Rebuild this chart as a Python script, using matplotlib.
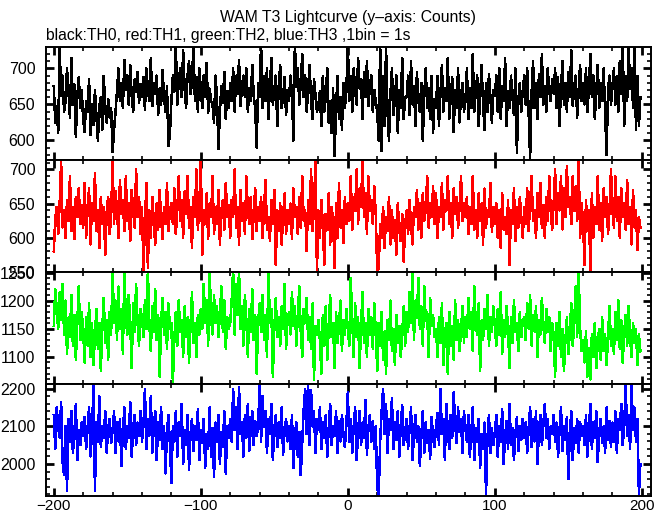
import numpy as np
import matplotlib.pyplot as plt
from matplotlib.ticker import MultipleLocator

# 1 s bins, t = -200 ... 199
t_first = -200
n_bins = 400

th0 = [
    675, 625, 648, 610, 730, 662, 690, 640, 655, 700, 668, 632, 715, 650, 678, 605, 660, 688, 645, 670,
    628, 612, 655, 640, 685, 608, 650, 622, 670, 635, 600, 648, 660, 615, 690, 642, 625, 658, 632, 645,
    584, 615, 640, 668, 700, 655, 680, 645, 712, 670, 690, 650, 705, 662, 640, 685, 668, 695, 652, 678,
    660, 688, 642, 700, 670, 655, 715, 648, 680, 665, 690, 635, 672, 650, 698, 660, 640, 675, 592, 610,
    655, 690, 668, 735, 650, 682, 700, 660, 725, 672, 645, 690, 710, 665, 680, 735, 655, 688, 640, 700,
    670, 645, 690, 660, 708, 638, 672, 655, 650, 625, 690, 660, 588, 640, 675, 652, 695, 630, 668, 645,
    680, 655, 700, 640, 690, 665, 712, 648, 675, 690, 660, 700, 640, 672, 655, 705, 662, 645, 590, 680,
    660, 735, 645, 690, 655, 700, 630, 672, 715, 650, 668, 690, 620, 675, 705, 645, 660, 688, 635, 670,
    655, 690, 665, 600, 735, 675, 700, 650, 680, 720, 660, 690, 640, 670, 705, 655, 630, 685, 662, 640,
    650, 668, 620, 690, 640, 660, 700, 625, 655, 610, 672, 578, 645, 690, 630, 660, 615, 680, 645, 668,
    735, 655, 690, 640, 700, 668, 650, 715, 672, 685, 630, 695, 660, 710, 648, 675, 690, 640, 670, 655,
    640, 600, 735, 585, 690, 620, 730, 640, 600, 665, 700, 635, 655, 690, 610, 670, 645, 715, 630, 660,
    660, 690, 635, 710, 650, 675, 620, 695, 655, 640, 680, 600, 665, 700, 645, 672, 630, 690, 610, 658,
    645, 690, 620, 665, 705, 640, 672, 655, 715, 630, 660, 688, 612, 670, 645, 700, 625, 662, 680, 640,
    655, 700, 630, 672, 645, 720, 640, 668, 690, 620, 660, 705, 650, 615, 680, 640, 692, 660, 625, 670,
    662, 690, 640, 700, 630, 675, 655, 715, 620, 668, 645, 690, 660, 635, 700, 583, 655, 680, 640, 670,
    690, 650, 700, 640, 576, 665, 710, 645, 680, 630, 692, 660, 720, 650, 675, 640, 700, 668, 655, 685,
    665, 700, 645, 688, 620, 672, 710, 650, 680, 640, 695, 660, 725, 648, 675, 690, 632, 668, 705, 655,
    680, 650, 700, 640, 675, 720, 660, 690, 630, 668, 705, 645, 680, 655, 700, 640, 580, 670, 690, 650,
    675, 700, 650, 690, 640, 710, 665, 735, 620, 690, 655, 730, 672, 700, 645, 735, 615, 690, 620, 660,
]

th1 = [
    580, 628, 645, 605, 650, 712, 615, 640, 600, 655, 625, 690, 610, 645, 598, 660, 630, 672, 620, 648,
    615, 680, 600, 640, 672, 590, 650, 625, 695, 610, 640, 585, 660, 620, 645, 575, 638, 660, 605, 630,
    715, 620, 668, 640, 600, 685, 635, 655, 610, 690, 625, 650, 595, 670, 640, 615, 700, 630, 660, 605,
    645, 552, 620, 680, 555, 640, 600, 660, 625, 590, 650, 612, 670, 630, 598, 645, 620, 680, 610, 640,
    650, 620, 672, 605, 640, 690, 625, 655, 600, 668, 635, 690, 615, 645, 585, 660, 630, 700, 612, 648,
    715, 575, 640, 620, 665, 598, 650, 630, 690, 605, 645, 620, 670, 590, 640, 655, 612, 680, 630, 648,
    600, 655, 630, 700, 615, 645, 590, 670, 625, 650, 605, 690, 640, 620, 660, 598, 635, 672, 610, 645,
    625, 660, 600, 640, 685, 612, 630, 595, 655, 620, 670, 560, 640, 610, 650, 590, 632, 665, 605, 640,
    620, 650, 598, 672, 630, 645, 605, 660, 615, 690, 625, 640, 580, 655, 620, 700, 610, 645, 715, 552,
    640, 600, 655, 620, 560, 635, 612, 665, 590, 645, 625, 555, 650, 600, 680, 615, 640, 592, 660, 620,
    650, 625, 690, 612, 660, 640, 700, 620, 672, 645, 715, 630, 665, 605, 690, 640, 655, 620, 675, 635,
    550, 555, 620, 600, 645, 585, 630, 610, 660, 590, 640, 600, 625, 575, 650, 612, 595, 635, 565, 620,
    640, 605, 655, 620, 590, 645, 630, 670, 612, 650, 600, 665, 625, 640, 690, 615, 650, 630, 675, 620,
    665, 600, 645, 630, 680, 612, 655, 640, 690, 620, 650, 600, 672, 635, 660, 615, 645, 690, 625, 650,
    630, 660, 605, 645, 620, 690, 612, 640, 600, 665, 625, 650, 590, 672, 615, 640, 630, 680, 608, 645,
    620, 650, 600, 640, 585, 665, 612, 630, 605, 655, 560, 640, 620, 672, 595, 645, 615, 660, 630, 600,
    645, 620, 672, 610, 650, 690, 625, 640, 600, 665, 630, 680, 615, 648, 600, 660, 625, 690, 640, 612,
    650, 700, 620, 665, 640, 690, 612, 672, 630, 705, 645, 660, 620, 690, 640, 675, 625, 715, 600, 650,
    625, 560, 655, 610, 640, 552, 665, 600, 645, 620, 690, 612, 650, 595, 672, 630, 660, 605, 640, 700,
    640, 615, 690, 625, 660, 600, 672, 630, 650, 612, 685, 620, 645, 590, 670, 615, 640, 582, 630, 615,
]

th2 = [
    1155, 1220, 1185, 1150, 1215, 1165, 1230, 1140, 1200, 1105, 1170, 1135, 1210, 1120, 1175, 1095, 1160, 1225, 1130, 1180,
    1145, 1090, 1170, 1120, 1195, 1100, 1160, 1085, 1140, 1185, 1115, 1160, 1075, 1150, 1205, 1125, 1165, 1095, 1180, 1140,
    1255, 1160, 1200, 1130, 1225, 1150, 1185, 1105, 1255, 1170, 1140, 1210, 1160, 1080, 1195, 1145, 1230, 1160, 1120, 1185,
    1170, 1135, 1200, 1150, 1255, 1160, 1110, 1190, 1145, 1220, 1130, 1175, 1065, 1160, 1205, 1140, 1180, 1115, 1195, 1150,
    1160, 1055, 1130, 1180, 1120, 1200, 1145, 1165, 1100, 1190, 1135, 1170, 1090, 1155, 1215, 1125, 1160, 1100, 1175, 1140,
    1185, 1150, 1230, 1160, 1200, 1120, 1255, 1170, 1140, 1210, 1160, 1190, 1135, 1175, 1225, 1145, 1200, 1115, 1170, 1150,
    1160, 1200, 1255, 1140, 1230, 1175, 1255, 1150, 1190, 1120, 1210, 1165, 1100, 1185, 1145, 1220, 1130, 1175, 1070, 1160,
    1195, 1145, 1210, 1130, 1175, 1100, 1255, 1160, 1185, 1065, 1150, 1205, 1135, 1170, 1120, 1190, 1150, 1230, 1115, 1165,
    1180, 1140, 1215, 1155, 1190, 1120, 1175, 1225, 1145, 1100, 1185, 1160, 1205, 1130, 1170, 1115, 1195, 1060, 1155, 1140,
    1165, 1130, 1070, 1175, 1120, 1190, 1095, 1150, 1210, 1135, 1160, 1080, 1180, 1125, 1155, 1200, 1110, 1165, 1140, 1185,
    1150, 1120, 1240, 1165, 1100, 1195, 1135, 1170, 1080, 1155, 1215, 1125, 1160, 1100, 1185, 1140, 1170, 1115, 1195, 1145,
    1075, 1160, 1120, 1180, 1095, 1145, 1070, 1165, 1130, 1200, 1110, 1150, 1085, 1175, 1125, 1155, 1100, 1140, 1190, 1120,
    1180, 1145, 1215, 1160, 1255, 1130, 1200, 1170, 1240, 1150, 1190, 1120, 1225, 1165, 1180, 1100, 1205, 1155, 1175, 1135,
    1150, 1100, 1170, 1125, 1195, 1085, 1140, 1160, 1070, 1180, 1120, 1155, 1095, 1200, 1130, 1165, 1110, 1145, 1190, 1125,
    1170, 1135, 1205, 1150, 1180, 1110, 1225, 1160, 1140, 1195, 1075, 1165, 1130, 1185, 1150, 1210, 1120, 1170, 1145, 1190,
    1155, 1120, 1185, 1140, 1215, 1105, 1165, 1135, 1190, 1150, 1080, 1170, 1125, 1200, 1145, 1160, 1110, 1180, 1135, 1165,
    1170, 1130, 1195, 1150, 1210, 1120, 1175, 1145, 1190, 1100, 1165, 1140, 1205, 1155, 1125, 1185, 1145, 1170, 1110, 1160,
    1140, 1065, 1160, 1120, 1180, 1100, 1150, 1075, 1130, 1170, 1105, 1145, 1195, 1120, 1160, 1225, 1135, 1255, 1150, 1110,
    1130, 1090, 1145, 1065, 1115, 1060, 1140, 1100, 1160, 1080, 1125, 1150, 1095, 1170, 1110, 1140, 1085, 1135, 1190, 1120,
    1150, 1105, 1180, 1130, 1200, 1115, 1165, 1090, 1145, 1175, 1120, 1190, 1135, 1100, 1160, 1125, 1150, 1085, 1140, 1110,
]

th3 = [
    2130, 2040, 2150, 2095, 2070, 2165, 2005, 1970, 2100, 1930, 2120, 2060, 2140, 2030, 2080, 2160, 2010, 2090, 2050, 2110,
    2075, 2125, 2040, 2095, 2150, 2020, 2085, 2210, 1930, 2110, 2060, 2180, 2045, 2100, 2070, 2140, 2030, 2095, 2120, 2055,
    2090, 2140, 2030, 2110, 2060, 2120, 1995, 2085, 2150, 2040, 2100, 2070, 2165, 2020, 2095, 2130, 2050, 2110, 2075, 2140,
    2060, 2105, 2200, 2040, 2120, 2075, 2180, 2030, 2095, 2140, 2010, 2110, 2065, 2150, 2040, 2100, 1975, 2085, 2130, 2050,
    1950, 2100, 2060, 2140, 2020, 2110, 2075, 2160, 2000, 2090, 2050, 2130, 1985, 2080, 2120, 2035, 2100, 2065, 2145, 2010,
    2090, 2055, 2120, 1990, 2080, 2040, 2150, 2020, 2095, 1965, 2110, 2060, 2130, 2000, 2085, 2045, 2140, 1975, 2100, 2070,
    2120, 2060, 2200, 2090, 2150, 2040, 2205, 2080, 2110, 2020, 2130, 2070, 2160, 2035, 2095, 2140, 2050, 2115, 2075, 2100,
    2210, 2060, 2180, 2100, 2140, 2030, 2120, 2080, 2160, 2010, 2095, 2130, 2045, 2110, 2070, 2150, 2025, 2090, 2120, 2060,
    2100, 2040, 2130, 1990, 2075, 2110, 2020, 2085, 1970, 2060, 2145, 2200, 2080, 2210, 2050, 2195, 2100, 2140, 2030, 2120,
    2090, 2150, 2040, 2110, 2070, 2130, 2020, 2095, 2160, 2050, 2100, 2075, 2140, 2030, 2115, 2060, 2130, 2080, 2045, 2105,
    2190, 2060, 2120, 2030, 2100, 2150, 2010, 2085, 2140, 2050, 2110, 2070, 2170, 2025, 2095, 2130, 2060, 2115, 2040, 2100,
    1940, 1915, 2060, 2140, 2200, 2080, 2160, 2030, 2120, 2090, 2175, 2040, 2110, 2065, 2140, 2020, 2100, 2155, 2050, 2085,
    2120, 2040, 2095, 2150, 2010, 2080, 2130, 2060, 2100, 1995, 2075, 2140, 2030, 2110, 2055, 2090, 2015, 2125, 2070, 2045,
    2100, 2135, 2050, 2200, 2080, 2120, 2010, 2160, 2090, 2040, 2130, 2070, 2190, 2110, 2055, 2150, 2085, 2120, 2030, 2140,
    2100, 2060, 2130, 2020, 2085, 2150, 2010, 2095, 2060, 2120, 1990, 2080, 2040, 2110, 1920, 2070, 2130, 2030, 2095, 2050,
    2085, 2130, 2020, 2100, 2060, 2145, 2000, 2075, 2115, 2040, 2160, 2050, 2095, 2010, 2080, 2125, 2035, 2100, 2065, 2120,
    2070, 2110, 2030, 2095, 2150, 2045, 2120, 2060, 2140, 2000, 2090, 2130, 2050, 2105, 2160, 2070, 2120, 2040, 2100, 2080,
    2130, 2060, 2110, 2020, 2090, 2150, 2035, 2100, 2065, 2125, 1960, 2080, 2140, 2010, 2095, 2055, 2120, 2030, 2110, 2075,
    2100, 2050, 2130, 2020, 2095, 2160, 2040, 2110, 2070, 2140, 2005, 2085, 2120, 2055, 2100, 2030, 2150, 2065, 2115, 2045,
    2110, 2060, 2140, 2030, 2120, 2090, 2160, 2050, 2100, 2210, 2075, 2130, 2040, 2210, 2090, 2150, 2060, 2120, 1920, 2000,
]

series = [th0, th1, th2, th3]
colors = ['black', '#ff0000', '#00ff00', '#0000ff']
ylims = [(573.5, 729.3), (550, 714.6), (1052, 1251.5), (1915, 2213)]
major_y = [50, 50, 50, 100]
minor_y = [10, 10, 10, 20]

plt.rcParams['font.family'] = ['Liberation Sans', 'DejaVu Sans']

t = np.arange(n_bins) + t_first

fig, axes = plt.subplots(4, 1, sharex=True, figsize=(6.69, 5.15), dpi=100)
fig.subplots_adjust(left=0.0683, right=0.9726, bottom=0.0369, top=0.908, hspace=0)

for i, ax in enumerate(axes):
    ax.plot(t, series[i], color=colors[i], lw=1.1, antialiased=False)
    ax.set_ylim(*ylims[i])
    ax.set_xlim(-205.5, 206)
    ax.yaxis.set_major_locator(MultipleLocator(major_y[i]))
    ax.yaxis.set_minor_locator(MultipleLocator(minor_y[i]))
    ax.xaxis.set_major_locator(MultipleLocator(100))
    ax.xaxis.set_minor_locator(MultipleLocator(20))
    ax.tick_params(which='both', direction='in', top=True, right=True)
    ax.tick_params(which='major', length=6, width=2.0, labelsize=11.5, pad=7.5)
    ax.tick_params(which='minor', length=3, width=1.2)
    ax.tick_params(axis='x', which='major', pad=2, labelsize=11)
    for sp in ax.spines.values():
        sp.set_linewidth(1.4)

fig.text(0.52, 0.966, 'WAM T3 Lightcurve (y\u2013axis: Counts)', ha='center', va='center', fontsize=11.3)
fig.text(0.069, 0.932, 'black:TH0, red:TH1, green:TH2, blue:TH3 ,1bin = 1s', ha='left', va='center', fontsize=11.3)

fig.savefig('out.png', dpi=100)
